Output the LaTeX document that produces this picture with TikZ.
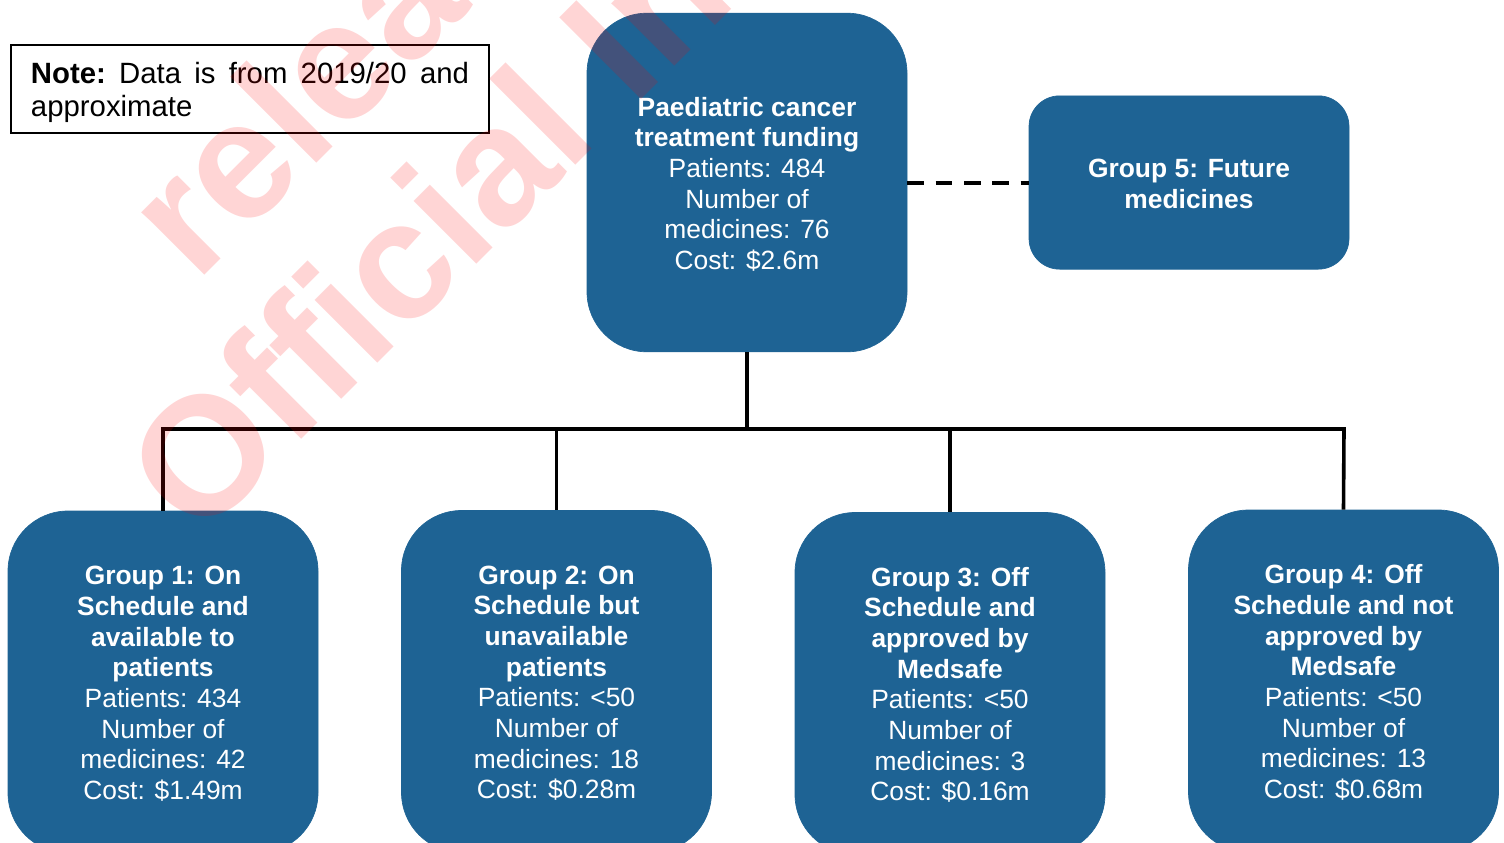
\documentclass[tikz,border=0pt]{standalone}
\usepackage{fontspec}
\setmainfont{Liberation Sans}
\definecolor{boxblue}{RGB}{30,99,148}
\newcommand{\topfix}{\rule{0pt}{16.4pt}}
\tikzset{
  x=0.75pt,y=-0.75pt,
  fundbox/.style={draw=boxblue,fill=boxblue,text=white,align=center,inner sep=0pt,line width=0.5pt,
    font=\fontsize{19.8}{23}\selectfont},
  bigbox/.style={fundbox,rounded corners=45pt,minimum width=232.5pt},
  wire/.style={draw=black,line width=2.7pt},
  mark text/.style={text=red,opacity=0.165,rotate=45,anchor=base west,inner sep=0pt,font=\bfseries\fontsize{126}{126}\selectfont}
}
\begin{document}
\begin{tikzpicture}
\useasboundingbox (0,0) rectangle (1504,843);
\clip (0,0) rectangle (1504,843);
\node[bigbox,minimum width=240pt,minimum height=254pt] (main) at (747,182.5) {\rule{0pt}{17pt}\textbf{Paediatric cancer}\\\textbf{treatment funding}\\Patients: 484\\Number of\\medicines: 76\\Cost: \$2.6m};
\node[fundbox,rounded corners=23pt,minimum width=240pt,minimum height=130pt] (g5) at (1189,182.5) {\rule{0pt}{16.4pt}\textbf{Group 5: Future}\\\textbf{medicines}};
\node[bigbox,minimum height=256.5pt] (g1) at (163,682) {\topfix\textbf{Group 1: On}\\\textbf{Schedule and}\\\textbf{available to}\\\textbf{patients}\\Patients: 434\\Number of\\medicines: 42\\Cost: \$1.49m};
\node[bigbox,minimum height=256.5pt] (g2) at (556.5,681.5) {\topfix\textbf{Group 2: On}\\\textbf{Schedule but}\\\textbf{unavailable}\\\textbf{patients}\\Patients: <50\\Number of\\medicines: 18\\Cost: \$0.28m};
\node[bigbox,minimum height=256.5pt] (g3) at (950,683.5) {\topfix\textbf{Group 3: Off}\\\textbf{Schedule and}\\\textbf{approved by}\\\textbf{Medsafe}\\Patients: <50\\Number of\\medicines: 3\\Cost: \$0.16m};
\node[bigbox,minimum height=256.5pt] (g4) at (1343.5,681) {\topfix\textbf{Group 4: Off}\\\textbf{Schedule and not}\\\textbf{approved by}\\\textbf{Medsafe}\\Patients: <50\\Number of\\medicines: 13\\Cost: \$0.68m};
\node[draw=black,line width=1.5pt,text width=328.5pt,minimum width=359pt,minimum height=66pt,inner sep=0pt,align=left,
  font=\fontsize{22}{24.8}\selectfont] (note) at (250,88.5)
  {\rule{0pt}{22pt}\hbox to 328.5pt{\textbf{Note:}\hfill Data\hfill is\hfill from\hfill 2019/20\hfill and}\\approximate};
\coordinate (busl) at (163,429);
\coordinate (busr) at (1344,429);
\coordinate (busm) at (747,429);
\draw[wire] (main.south) -- (busm);
\draw[wire,line cap=rect] (busl) -- (busr);
\draw[wire] (busl) -- (g1.north);
\draw[wire] (g2.north |- busl) -- (g2.north);
\draw[wire] (g3.north |- busl) -- (g3.north);
\draw[wire] (busr) -- (g4.north);
\draw[wire,line width=3pt,dash pattern=on 12.5pt off 8.75pt] (main.east |- g5.west) -- (g5.west);
\node[mark text] (wm1) at (198,543) {Official Information};
\node[mark text] (wm2) at (196,284) {released under};
\end{tikzpicture}
\end{document}
